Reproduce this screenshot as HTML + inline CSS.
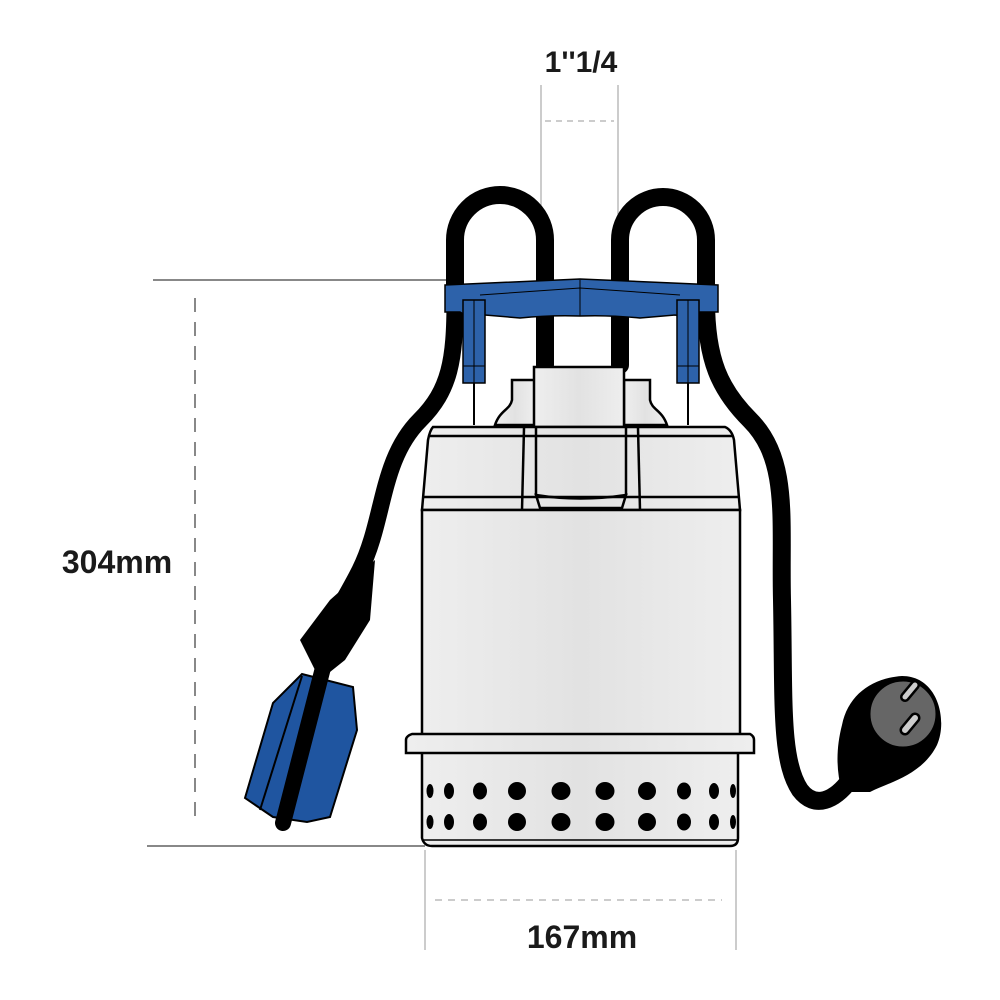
<!DOCTYPE html>
<html><head><meta charset="utf-8"><style>
html,body{margin:0;padding:0;background:#fff;}
svg{display:block;}
text{font-family:"Liberation Sans",Arial,sans-serif;font-weight:bold;fill:#1a1a1a;}
</style></head><body>
<svg width="1000" height="1000" viewBox="0 0 1000 1000" xmlns="http://www.w3.org/2000/svg">
<defs>
<linearGradient id="body" x1="0" x2="1" y1="0" y2="0">
<stop offset="0" stop-color="#eeeeee"/><stop offset="0.5" stop-color="#e2e2e2"/><stop offset="1" stop-color="#eeeeee"/>
</linearGradient>
</defs>

<g stroke="#111" stroke-width="1" fill="none">
<line x1="153" y1="280" x2="455" y2="280"/>
<line x1="147" y1="846" x2="425" y2="846"/>
<line x1="195" y1="298" x2="195" y2="822" stroke-dasharray="14,10"/>
</g>
<g stroke="#999" stroke-width="1" fill="none">
<line x1="541" y1="85" x2="541" y2="330"/>
<line x1="618" y1="85" x2="618" y2="330"/>
<line x1="545" y1="121" x2="614" y2="121" stroke-dasharray="6,5"/>
<line x1="425" y1="850" x2="425" y2="950"/>
<line x1="736" y1="850" x2="736" y2="950"/>
<line x1="435" y1="900" x2="722" y2="900" stroke-dasharray="7,6"/>
</g>
<text x="117" y="573" font-size="32" text-anchor="middle">304mm</text>
<text x="581" y="72" font-size="30" text-anchor="middle">1''1/4</text>
<text x="582" y="948" font-size="32" text-anchor="middle">167mm</text>

<g fill="none" stroke="#000" stroke-linecap="round">
<path d="M455 300 L455 240 A45 45 0 0 1 545 240 L545 365" stroke-width="18"/>
<path d="M620 365 L620 240 A43 43 0 0 1 706 240 L706 300" stroke-width="18"/>
<path d="M455 300 C455 360 450 390 420 420 C380 460 385 520 360 570 C345 600 330 620 320 650" stroke-width="17"/>
<path d="M706 300 C706 360 720 390 750 420 C790 460 780 520 782 600 C784 700 780 760 800 790 C815 810 835 800 850 780" stroke-width="18"/>
</g>
<path d="M300 640 L330 600 L375 560 L370 620 L345 660 L320 680 Z" fill="#000"/>
<polygon points="245,798 273,703 302,674 353,687 357,730 330,817 307,822 273,817" fill="#1f55a0" stroke="#000" stroke-width="2"/>
<line x1="302" y1="676" x2="260" y2="810" stroke="#000" stroke-width="2"/>
<line x1="325" y1="660" x2="283" y2="823" stroke="#000" stroke-width="16" stroke-linecap="round"/>

<path d="M842 725 C848 695 872 678 902 676 C938 676 948 720 937 745 C922 775 890 782 870 792 L842 792 C836 770 836 748 842 725 Z" fill="#000"/>
<circle cx="903" cy="714" r="34" fill="#666" stroke="#000" stroke-width="3"/>
<line x1="905" y1="697" x2="915" y2="685" stroke="#000" stroke-width="10" stroke-linecap="round"/>
<line x1="905" y1="697" x2="915" y2="685" stroke="#ccc" stroke-width="5" stroke-linecap="round"/>
<line x1="905" y1="730" x2="915" y2="718" stroke="#000" stroke-width="11" stroke-linecap="round"/>
<line x1="905" y1="730" x2="915" y2="718" stroke="#ccc" stroke-width="6" stroke-linecap="round"/>

<g stroke="#000" stroke-width="2" fill="none">
<line x1="474" y1="383" x2="474" y2="425"/>
<line x1="688" y1="383" x2="688" y2="425"/>
</g>

<g stroke="#000" stroke-width="2.5" fill="url(#body)">
<path d="M495 425 C500 410 510 410 512 400 L512 380 L535 380 L535 425 Z"/>
<path d="M667 425 C662 410 652 410 650 400 L650 380 L624 380 L624 425 Z"/>
<rect x="534" y="367" width="90" height="60"/>
</g>

<g stroke="#000" stroke-width="2.5" fill="url(#body)">
<path d="M433 427 L725 427 Q732 430 734 440 L740 510 L422 510 L428 440 Q430 430 433 427 Z"/>
<line x1="430" y1="436" x2="732" y2="436"/>
<line x1="424" y1="497" x2="738" y2="497"/>
<line x1="524" y1="428" x2="522" y2="510"/>
<line x1="536" y1="428" x2="536" y2="495"/>
<line x1="626" y1="428" x2="626" y2="495"/>
<line x1="638" y1="428" x2="640" y2="510"/>
<path d="M536 495 Q580 502 626 495 L622 508 L540 508 Z" fill="none"/>
<rect x="422" y="510" width="318" height="225"/>
<path d="M422 752 L422 838 Q424 846 432 846 L730 846 Q738 846 738 838 L738 752 Z"/>
<path d="M412 734 L750 734 Q754 736 754 740 L754 753 L406 753 L406 740 Q406 736 412 734 Z"/>
</g>
<line x1="422" y1="840" x2="738" y2="840" stroke="#000" stroke-width="1.5"/>

<g fill="#000">
<ellipse cx="430" cy="791" rx="3.5" ry="7"/><ellipse cx="430" cy="822" rx="3.5" ry="7"/>
<ellipse cx="449" cy="791" rx="5" ry="8"/><ellipse cx="449" cy="822" rx="5" ry="8"/>
<ellipse cx="480" cy="791" rx="7" ry="8.5"/><ellipse cx="480" cy="822" rx="7" ry="8.5"/>
<ellipse cx="517" cy="791" rx="9" ry="9"/><ellipse cx="517" cy="822" rx="9" ry="9"/>
<ellipse cx="561" cy="791" rx="9.5" ry="9"/><ellipse cx="561" cy="822" rx="9.5" ry="9"/>
<ellipse cx="605" cy="791" rx="9.5" ry="9"/><ellipse cx="605" cy="822" rx="9.5" ry="9"/>
<ellipse cx="647" cy="791" rx="9" ry="9"/><ellipse cx="647" cy="822" rx="9" ry="9"/>
<ellipse cx="684" cy="791" rx="7" ry="8.5"/><ellipse cx="684" cy="822" rx="7" ry="8.5"/>
<ellipse cx="714" cy="791" rx="5" ry="8"/><ellipse cx="714" cy="822" rx="5" ry="8"/>
<ellipse cx="733" cy="791" rx="3" ry="7"/><ellipse cx="733" cy="822" rx="3" ry="7"/>
</g>

<g fill="#2d62aa" stroke="#000" stroke-width="1.5">
<path d="M445 285 L580 279 L718 285 L718 312 L700 312 L690 318 L675 315 L640 318 Q610 315 580 316 Q550 315 520 318 L485 315 L470 318 L460 312 L445 312 Z"/>
<rect x="463" y="300" width="22" height="83"/>
<rect x="677" y="300" width="22" height="83"/>
</g>
<g stroke="#000" stroke-width="1" fill="none">
<line x1="474" y1="300" x2="474" y2="383"/>
<line x1="688" y1="300" x2="688" y2="383"/>
<line x1="580" y1="280" x2="580" y2="316"/>
<path d="M480 295 L580 288 L680 295"/>
<line x1="463" y1="366" x2="485" y2="366"/>
<line x1="677" y1="366" x2="699" y2="366"/>
</g>
</svg>
</body></html>
